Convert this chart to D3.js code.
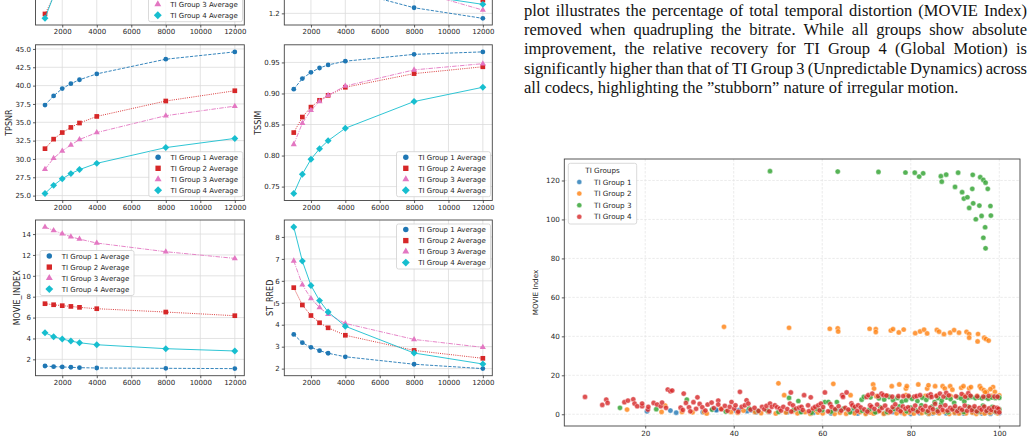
<!DOCTYPE html>
<html>
<head>
<meta charset="utf-8">
<script src="https://cdn.jsdelivr.net/npm/d3@7"></script>
<style>
  body { margin: 0; background: #fff; }
  svg { display: block; }
</style>
</head>
<body>
<script>
const width = 1034;
const height = 442;

// ---- line panels (bitrate sweeps) ----
const bitrates = [1000, 1500, 2000, 2500, 3000, 4000, 8000, 12000];
const bitrateTicks = [2000, 4000, 6000, 8000, 10000, 12000];
const groupNames = ['TI Group 1 Average', 'TI Group 2 Average', 'TI Group 3 Average', 'TI Group 4 Average'];

// top row panels are cut off by the page edge
const topLeftG1 = [50, 55, 58, 60, 62, 65, 72, 76];
const topLeftG2 = [29.7, 38.5, 42, 44.5, 46.5, 50, 58, 62];
const topLeftG3 = [40, 46, 50, 53, 55, 58, 65, 69];
const topLeftG4 = [27.5, 39.1, 45, 49, 52, 56, 64, 68];
const topLeftTicks = [];

const topRightG1 = [2.3, 2.0, 1.8, 1.65, 1.55, 1.404, 1.248, 1.157];
const topRightG2 = [2.35, 2.1, 1.95, 1.85, 1.75, 1.62, 1.45, 1.314];
const topRightG3 = [2.3, 2.05, 1.9, 1.8, 1.7, 1.58, 1.397, 1.228];
const topRightG4 = [2.35, 2.1, 1.9, 1.78, 1.68, 1.55, 1.365, 1.277];
const topRightTicks = [1.2];

const tpsnrG1 = [37.35, 38.6, 39.6, 40.26, 40.8, 41.6, 43.6, 44.6];
const tpsnrG2 = [31.4, 32.7, 33.6, 34.3, 34.9, 35.8, 37.9, 39.3];
const tpsnrG3 = [28.6, 30.1, 31.1, 31.9, 32.65, 33.6, 35.9, 37.2];
const tpsnrG4 = [25.3, 26.4, 27.3, 28.0, 28.55, 29.4, 31.55, 32.8];
const tpsnrTicks = [25, 27.5, 30, 32.5, 35, 37.5, 40, 42.5, 45];

const tssimG1 = [0.907, 0.924, 0.934, 0.941, 0.946, 0.952, 0.963, 0.967];
const tssimG2 = [0.837, 0.862, 0.878, 0.889, 0.897, 0.910, 0.932, 0.943];
const tssimG3 = [0.818, 0.852, 0.873, 0.887, 0.897, 0.912, 0.938, 0.948];
const tssimG4 = [0.739, 0.770, 0.794, 0.811, 0.824, 0.844, 0.887, 0.910];
const tssimTicks = [0.75, 0.80, 0.85, 0.90, 0.95];

const movieG1 = [1.36, 1.30, 1.27, 1.24, 1.20, 1.17, 1.14, 1.11];
const movieG2 = [7.33, 7.23, 7.14, 7.07, 6.98, 6.85, 6.53, 6.18];
const movieG3 = [14.67, 14.35, 14.03, 13.74, 13.52, 13.14, 12.31, 11.67];
const movieG4 = [4.55, 4.17, 3.95, 3.75, 3.59, 3.40, 3.02, 2.80];
const movieTicks = [2, 4, 6, 8, 10, 12, 14];

const rredG1 = [3.56, 3.18, 2.97, 2.82, 2.70, 2.54, 2.20, 2.00];
const rredG2 = [5.69, 4.90, 4.42, 4.09, 3.86, 3.52, 2.83, 2.47];
const rredG3 = [6.91, 5.82, 5.20, 4.78, 4.48, 4.06, 3.33, 2.97];
const rredG4 = [8.45, 6.90, 5.79, 5.10, 4.58, 3.93, 2.71, 2.21];
const rredTicks = [2, 3, 4, 5, 6, 7, 8];

// ---- scatter: TI percentile vs MOVIE Index ----
const scatterGroups = ['TI Group 1', 'TI Group 2', 'TI Group 3', 'TI Group 4'];
const scatterXTicks = [20, 40, 60, 80, 100];
const scatterYTicks = [0, 20, 40, 60, 80, 100, 120];

const g1Points = [
  [20.4, 1.5], [25.7, 1.9], [27, 0.8], [33, 1.1], [35.2, 2.6], [36.0, 2.4], [36.1, 2.1], [40.5, 1.8],
  [41.2, 2.1], [43, 1.6], [44.0, 2.1], [45.0, 1.0], [48, 1.2], [52, 0.9], [55, 1.3], [58, 0.8],
  [62, 0.5], [64, 1.7], [66, 1.0], [66.9, 1.5], [68, 0.4], [70, 0.6], [71, 2.1], [72, 1.1],
  [74, 0.4], [76, 1.2], [78, 0.8], [80, 0.2], [82, 0.6], [84, 0.3], [85, 0.5], [86, 0.9],
  [88, 0.5], [90, 0.7], [91, 1.0], [92, 0.4], [94, 0.8], [96, 0.5], [97, 0.9], [98, 0.3],
  [99, 1.4], [100, 0.6]
];

const g2Points = [
  [37.8, 44.9], [52.5, 44.4], [61.7, 43.9], [63.5, 44.1], [63.6, 42.5], [70.7, 43.9], [72.1, 43.7],
  [72.1, 42.2], [75.5, 43.0], [76.0, 43.7], [77.3, 42.0], [78.4, 43.5], [81.0, 41.6], [82.1, 42.5],
  [83.0, 43.4], [83.7, 41.5], [85.9, 43.3], [86.4, 42.4], [87.5, 41.1], [88.9, 41.9], [89.8, 43.2],
  [90.9, 41.9], [92.6, 42.3], [93.2, 41.2], [93.2, 39.3], [95.2, 41.2], [95.1, 37.4], [96.6, 39.3],
  [97.0, 38.6], [97.6, 37.8],
  [50.1, 15.9], [51.4, 9.8], [62.5, 15.6], [66.4, 9.8], [71.5, 15.3], [71.7, 13.2], [75.7, 14.4],
  [77.4, 15.3], [78.9, 13.2], [79.1, 14.4], [81.7, 15.3], [83.7, 13.2], [84.0, 14.9], [85.5, 14.4],
  [87.2, 14.4], [87.7, 13.2], [88.9, 14.4], [89.4, 12.6], [91.4, 13.6], [91.9, 14.4], [93.2, 13.3],
  [93.6, 14.0], [95.6, 14.4], [95.9, 13.3], [96.5, 12.4], [97.2, 11.5], [98.6, 14.0], [99.0, 11.5],
  [98.0, 12.9], [96.8, 11.3], [74.7, 9.5], [72.2, 9.3], [78.9, 9.8], [83.3, 9.4], [86.0, 9.6],
  [89.0, 9.3], [92.0, 9.6], [95.0, 9.5], [98.3, 9.4], [100.0, 9.7],
  [15.9, 2.4], [24.5, 4.5], [23.7, 1.2], [28.3, 1.2], [30.7, 1.0], [33.3, 1.2], [33.9, 0.4],
  [37.1, 2.9], [39.4, 1.2], [40.9, 0.8], [42.2, 1.9], [44.8, 1.2], [46.2, 0.6], [47.8, 1.3],
  [49.5, 0.4], [51.8, 0.9], [53.3, 1.6], [54.4, 0.5], [56.1, 1.1], [57.3, 0.3], [58.0, 2.1],
  [59.0, 0.9], [60.1, 0.5], [61.7, 1.4], [62.8, 0.2], [64.0, 0.8], [65.4, 0.3], [66.0, 1.6],
  [67.3, 0.5], [68.5, 1.1], [69.8, 0.2], [70.9, 0.9], [71.6, 0.4], [72.7, 1.5], [73.9, 0.3],
  [74.9, 0.8], [75.6, 2.0], [76.8, 0.5], [77.9, 1.2], [78.6, 0.2], [79.6, 0.9], [80.7, 0.4],
  [81.8, 1.6], [82.5, 0.6], [83.4, 1.1], [84.1, 0.3], [85.2, 0.9], [86.4, 0.5], [87.5, 1.4],
  [88.7, 0.2], [89.9, 0.8], [90.9, 0.4], [91.8, 1.2], [92.5, 0.5], [93.9, 0.9], [94.8, 0.2],
  [95.8, 1.1], [96.7, 0.4], [97.9, 0.8], [98.7, 1.5], [99.6, 0.5], [100.0, 1.9]
];

const g3Points = [
  [48.2, 124.8], [63.5, 124.6], [72.7, 124.4], [78.8, 124.1], [80.9, 124.0], [81.9, 122.0],
  [82.8, 123.7], [86.8, 122.2], [87.0, 119.4], [88.0, 123.0], [90.0, 116.7], [90.7, 124.0],
  [91.6, 114.0], [92.0, 110.7], [92.8, 111.4], [93.2, 105.9], [94.0, 122.9], [93.9, 115.7],
  [94.1, 108.3], [94.7, 100.1], [95.5, 107.1], [95.7, 121.7], [96.0, 101.8], [96.4, 120.3],
  [96.8, 96.0], [96.4, 90.6], [96.9, 118.9], [96.9, 85.2], [97.4, 115.7], [98.0, 106.9], [98.1, 102.0],
  [14.3, 3.3], [22.5, 2.6], [29.4, 7.5], [35.1, 2.4], [38.2, 1.4], [43.5, 2.9], [45.5, 1.7],
  [47.5, 2.0], [50.1, 1.2], [52.5, 8.4], [53.6, 2.3], [54.6, 6.8], [55.2, 1.1], [57.6, 0.8],
  [58.8, 2.7], [60.0, 2.1], [60.6, 6.3], [61.4, 6.3], [62.0, 1.3], [63.0, 2.4], [63.3, 6.3],
  [64.8, 2.9], [66.3, 1.0], [67.1, 3.2], [68.9, 7.5], [69.0, 1.8], [69.4, 8.9], [70.6, 2.4],
  [70.9, 8.7], [72.0, 1.0], [72.8, 8.2], [73.1, 3.6], [74.0, 7.6], [74.6, 1.2], [75.2, 8.9],
  [76.0, 7.2], [76.2, 2.7], [77.0, 8.4], [77.4, 4.0], [78.0, 6.5], [78.9, 7.2], [79.1, 1.5],
  [79.7, 8.8], [80.0, 3.4], [80.3, 7.9], [81.2, 2.0], [81.5, 6.8], [82.4, 4.6], [82.6, 8.5],
  [83.5, 7.4], [83.6, 1.2], [84.2, 8.9], [84.8, 3.9], [85.4, 6.2], [86.0, 2.3], [86.2, 8.3],
  [86.9, 5.4], [87.0, 7.0], [88.1, 8.6], [88.4, 1.0], [89.0, 7.8], [89.6, 3.0], [89.8, 5.9],
  [90.6, 8.7], [90.8, 2.4], [91.4, 8.1], [92.0, 1.1], [92.1, 6.6], [92.9, 8.5], [93.0, 3.9],
  [93.7, 8.9], [94.2, 2.6], [94.6, 8.3], [95.1, 1.3], [95.3, 8.6], [96.1, 8.2], [96.3, 4.4],
  [96.9, 8.7], [97.3, 2.1], [97.5, 8.0], [98.3, 8.6], [98.4, 3.8], [99.1, 8.4], [99.2, 1.2],
  [99.8, 8.9], [100.0, 8.5], [100.0, 2.6]
];

const g4Points = [
  [6.4, 8.9], [10.3, 4.8], [11.2, 7.5], [11.5, 5.8], [15.3, 6.2], [16.1, 7.0], [17.3, 7.7],
  [17.6, 5.5], [18.2, 4.1], [19.3, 4.1], [19.3, 5.5], [20.6, 2.4], [20.7, 3.8], [21.9, 5.8],
  [22.7, 5.0], [23.5, 4.1], [23.8, 6.0], [24.7, 3.3], [25.1, 12.7], [25.7, 11.8], [26.1, 12.2],
  [28.7, 10.6], [28.0, 3.4], [28.5, 2.2], [29.2, 5.8], [29.9, 3.6], [30.2, 1.5], [30.9, 6.2],
  [31.5, 2.8], [31.8, 8.7], [32.3, 5.3], [32.9, 3.6], [33.6, 1.9], [34.1, 5.0], [35.0, 6.0],
  [35.5, 3.2], [36.5, 7.0], [36.5, 5.0], [37.2, 2.6], [38.0, 4.3], [38.6, 1.8], [39.1, 3.8],
  [39.5, 6.3], [40.1, 2.9], [40.4, 4.6], [41.0, 1.3], [41.4, 11.5], [41.8, 3.8], [42.5, 4.6],
  [42.9, 7.2], [43.3, 5.5], [43.8, 2.4], [44.7, 3.3], [45.6, 1.7], [46.4, 3.8], [46.9, 2.6],
  [47.4, 4.3], [48.0, 1.5], [48.2, 5.5], [48.6, 3.8], [49.3, 4.6], [49.8, 3.6], [50.4, 2.9],
  [50.7, 1.9], [51.2, 3.8], [52.1, 2.7], [52.7, 5.5], [52.9, 11.2], [53.0, 1.4], [53.4, 4.6],
  [54.1, 2.9], [54.8, 3.4], [55.3, 3.8], [55.6, 2.2], [55.9, 9.8], [56.8, 4.6], [57.0, 1.6],
  [57.4, 8.7], [57.9, 3.0], [58.4, 3.8], [59.1, 4.6], [59.4, 2.0], [59.7, 5.5], [60.2, 3.7],
  [60.6, 11.2], [61.3, 1.5], [61.8, 5.2], [62.1, 3.8], [62.9, 2.6], [63.7, 4.1], [64.3, 1.9],
  [64.5, 9.8], [64.7, 8.9], [65.2, 3.3], [65.5, 11.2], [65.9, 2.4], [66.6, 5.6], [66.8, 4.6],
  [67.4, 3.8], [67.9, 1.7], [68.1, 4.6], [68.7, 3.5], [69.5, 2.5], [70.0, 8.9], [70.2, 1.4],
  [70.4, 9.8], [70.8, 4.6], [71.1, 3.9], [71.3, 10.6], [71.8, 2.8], [72.4, 5.0], [72.6, 9.3],
  [72.9, 1.8], [73.4, 10.6], [73.5, 3.2], [73.8, 9.8], [74.2, 4.4], [74.5, 9.6], [74.8, 2.2],
  [75.4, 1.3], [75.8, 9.0], [75.9, 3.7], [76.5, 5.1], [77.1, 2.5], [77.2, 9.3], [77.7, 1.6],
  [78.2, 4.0], [78.3, 9.3], [78.8, 2.9], [79.4, 3.6], [79.5, 9.4], [79.9, 1.9], [80.5, 2.6],
  [80.8, 9.1], [81.0, 4.5], [81.3, 9.3], [81.6, 1.4], [82.1, 9.8], [82.2, 3.1], [82.7, 2.3],
  [83.3, 4.2], [83.9, 9.6], [83.9, 1.7], [84.4, 3.4], [84.5, 10.2], [84.7, 8.9], [85.0, 2.6],
  [85.5, 5.3], [85.8, 9.4], [86.1, 1.5], [86.6, 10.6], [86.7, 3.8], [87.2, 2.2], [87.4, 9.1],
  [87.8, 4.6], [88.0, 11.0], [88.3, 1.9], [88.6, 9.7], [88.9, 3.3], [89.4, 2.5], [90.0, 4.1],
  [90.2, 9.2], [90.5, 1.6], [91.1, 3.0], [91.5, 10.4], [91.6, 2.3], [92.2, 4.4], [92.3, 9.0],
  [92.7, 1.8], [93.0, 10.8], [93.3, 3.6], [93.5, 9.5], [93.8, 2.1], [94.4, 4.0], [94.9, 1.5],
  [95.0, 9.2], [95.5, 3.2], [96.0, 2.4], [96.4, 9.0], [96.6, 3.9], [97.1, 1.7], [97.6, 9.4],
  [97.7, 3.0], [98.2, 2.2], [98.8, 3.6], [98.9, 9.1], [99.3, 1.4], [99.5, 3.3], [99.6, 9.0],
  [99.8, 2.8], [100.0, 1.0]
];

// ---- paragraph text above the scatter ----
const paragraph = [
  'plot illustrates the percentage of total temporal distortion (MOVIE Index)',
  'removed when quadrupling the bitrate. While all groups show absolute',
  'improvement, the relative recovery for TI Group 4 (Global Motion) is',
  'significantly higher than that of TI Group 3 (Unpredictable Dynamics) across',
  'all codecs, highlighting the \u201dstubborn\u201d nature of irregular motion.'
];

// G4 uses a square turned 45 degrees, like a matplotlib 'D' marker
const lineStyles = [
  { color: '#1f77b4', symbol: d3.symbolCircle, size: 18, rot: 0, dash: '3.2,1.4' },
  { color: '#d62728', symbol: d3.symbolSquare, size: 22, rot: 0, dash: '1,1.2' },
  { color: '#e377c2', symbol: d3.symbolTriangle, size: 16, rot: 0, dash: '4.5,1.2,1,1.2' },
  { color: '#17becf', symbol: d3.symbolSquare, size: 24, rot: 45, dash: null }
];
const scatterColors = ['#1f77b4', '#ff7f0e', '#2ca02c', '#d62728'];
const font = 'DejaVu Sans';

const svg = d3.select('body')
              .append('svg')
              .attr('width', width)
              .attr('height', height);
svg.append('rect').attr('width', width).attr('height', height).attr('fill', '#fff');

function styleAxis(g, size) {
  g.select('.domain').remove();
  g.attr('font-family', font).attr('font-size', size);
  g.selectAll('line').attr('stroke', '#333').attr('stroke-width', 0.8);
  g.selectAll('text').attr('fill', '#262626');
}

function drawLegend(g, x0, y0, w, h, entries, title) {
  g.append('rect')
   .attr('x', x0).attr('y', y0).attr('width', w).attr('height', h)
   .attr('rx', 2).attr('fill', '#fff').attr('fill-opacity', 0.85)
   .attr('stroke', '#d0d0d0').attr('stroke-width', 0.8);
  let top = y0 + 5.6;
  if (title) {
    g.append('text').attr('x', x0 + w / 2).attr('y', y0 + 6.8).attr('dy', '0.35em')
     .attr('text-anchor', 'middle').attr('font-family', font).attr('font-size', 7.2)
     .attr('fill', '#262626').text(title);
    top = y0 + 18.7;
  }
  entries.forEach((e, i) => {
    const cy = top + i * e.step;
    if (cy < 2) return; // row sits above the page edge
    g.append('path')
     .attr('d', d3.symbol().type(e.symbol).size(e.size)())
     .attr('transform', `translate(${x0 + e.mx}, ${cy}) rotate(${e.rot || 0})`)
     .attr('fill', e.color).attr('fill-opacity', e.opacity || 1)
     .attr('stroke', e.stroke || 'none').attr('stroke-width', 0.4);
    g.append('text').attr('x', x0 + e.tx).attr('y', cy).attr('dy', '0.35em')
     .attr('font-family', font).attr('font-size', e.fs)
     .attr('fill', '#262626').text(e.label);
  });
}

function linePanel(p) {
  const g = svg.append('g');
  const x = d3.scaleLinear().domain([450, 12550]).range([p.left, p.right]);
  let dom = p.domain;
  if (!dom) {
    const [lo, hi] = d3.extent(p.series.flat());
    const m = (hi - lo) * 0.05;
    dom = [lo - m, hi + m];
  }
  const y = d3.scaleLinear().domain(dom).range([p.bottom, p.top]);

  // grid
  g.append('g').selectAll('line').data(bitrateTicks).join('line')
   .attr('x1', d => x(d)).attr('x2', d => x(d))
   .attr('y1', p.top).attr('y2', p.bottom)
   .attr('stroke', '#dcdcdc').attr('stroke-width', 0.8);
  g.append('g').selectAll('line').data(p.ticks).join('line')
   .attr('x1', p.left).attr('x2', p.right)
   .attr('y1', d => y(d)).attr('y2', d => y(d))
   .attr('stroke', '#dcdcdc').attr('stroke-width', 0.8);

  // series
  p.series.forEach((vals, i) => {
    const s = lineStyles[i];
    const pts = bitrates.map((b, j) => [x(b), y(vals[j])]);
    g.append('path')
     .attr('d', d3.line()(pts))
     .attr('fill', 'none')
     .attr('stroke', s.color)
     .attr('stroke-width', 0.9)
     .attr('stroke-dasharray', s.dash);
    g.append('g').selectAll('path').data(pts).join('path')
     .attr('d', d3.symbol().type(s.symbol).size(s.size)())
     .attr('transform', d => `translate(${d[0]}, ${d[1]}) rotate(${s.rot})`)
     .attr('fill', s.color);
  });

  // frame
  g.append('rect')
   .attr('x', p.left).attr('y', p.top)
   .attr('width', p.right - p.left).attr('height', p.bottom - p.top)
   .attr('fill', 'none').attr('stroke', '#444').attr('stroke-width', 0.9);

  const xa = g.append('g')
              .attr('transform', `translate(0, ${p.bottom})`)
              .call(d3.axisBottom(x).tickValues(bitrateTicks).tickSize(2.5).tickPadding(2).tickFormat(d3.format('d')));
  styleAxis(xa, 7);
  const ya = g.append('g')
              .attr('transform', `translate(${p.left}, 0)`)
              .call(d3.axisLeft(y).tickValues(p.ticks).tickSize(2.5).tickPadding(2).tickFormat(p.format));
  styleAxis(ya, 7);

  if (p.label) {
    g.append('text')
     .attr('transform', `translate(${p.labelX}, ${(p.top + p.bottom) / 2}) rotate(-90)`)
     .attr('text-anchor', 'middle').attr('dy', '0.35em')
     .attr('font-family', font).attr('font-size', 8).attr('fill', '#262626')
     .text(p.label);
  }

  if (p.legend) {
    const entries = groupNames.map((name, i) => ({
      label: name, color: lineStyles[i].color, symbol: lineStyles[i].symbol,
      size: lineStyles[i].size * 1.3, rot: lineStyles[i].rot, mx: 9.3, tx: 21.7, fs: 7, step: 11
    }));
    drawLegend(g, p.legend[0], p.legend[1], 94, 45, entries);
  }
}

const leftCol = { left: 35.5, right: 244.3 };
const rightCol = { left: 284.3, right: 492.3 };

linePanel({ ...leftCol, top: -130, bottom: 25, domain: [24, 104],
  series: [topLeftG1, topLeftG2, topLeftG3, topLeftG4], ticks: topLeftTicks,
  format: d3.format('d'), legend: [148.5, -23.3] });
linePanel({ ...rightCol, top: -126.5, bottom: 25, domain: [1.1, 2.4],
  series: [topRightG1, topRightG2, topRightG3, topRightG4], ticks: topRightTicks,
  format: d3.format('.1f') });
linePanel({ ...leftCol, top: 44.8, bottom: 200.5,
  series: [tpsnrG1, tpsnrG2, tpsnrG3, tpsnrG4], ticks: tpsnrTicks,
  format: d3.format('.1f'), label: 'TPSNR', labelX: 9.5, legend: [148.8, 151.7] });
linePanel({ ...rightCol, top: 44.8, bottom: 200.5,
  series: [tssimG1, tssimG2, tssimG3, tssimG4], ticks: tssimTicks,
  format: d3.format('.2f'), label: 'TSSIM', labelX: 258.5, legend: [396.5, 151.7] });
linePanel({ ...leftCol, top: 220, bottom: 375.7,
  series: [movieG1, movieG2, movieG3, movieG4], ticks: movieTicks,
  format: d3.format('d'), label: 'MOVIE_INDEX', labelX: 17.5, legend: [40, 250.5] });
linePanel({ ...rightCol, top: 220, bottom: 375.7,
  series: [rredG1, rredG2, rredG3, rredG4], ticks: rredTicks,
  format: d3.format('d'), label: 'ST_RRED', labelX: 270, legend: [396.5, 224] });

// ---- scatter ----
(function scatter() {
  const p = { left: 564.3, right: 1020, top: 159, bottom: 426 };
  const all = [g1Points, g2Points, g3Points, g4Points];
  const flat = all.flat();
  const [x0, x1] = d3.extent(flat, d => d[0]);
  const [y0, y1] = d3.extent(flat, d => d[1]);
  const mx = (x1 - x0) * 0.05, my = (y1 - y0) * 0.05;
  const x = d3.scaleLinear().domain([x0 - mx, x1 + mx]).range([p.left, p.right]);
  const y = d3.scaleLinear().domain([y0 - my, y1 + my]).range([p.bottom, p.top]);
  const g = svg.append('g');

  g.append('g').selectAll('line').data(scatterXTicks).join('line')
   .attr('x1', d => x(d)).attr('x2', d => x(d)).attr('y1', p.top).attr('y2', p.bottom)
   .attr('stroke', '#e2e2e2').attr('stroke-width', 0.7).attr('stroke-dasharray', '2.5,1.5');
  g.append('g').selectAll('line').data(scatterYTicks).join('line')
   .attr('x1', p.left).attr('x2', p.right).attr('y1', d => y(d)).attr('y2', d => y(d))
   .attr('stroke', '#e2e2e2').attr('stroke-width', 0.7).attr('stroke-dasharray', '2.5,1.5');

  all.forEach((pts, i) => {
    g.append('g').selectAll('circle').data(pts).join('circle')
     .attr('cx', d => x(d[0])).attr('cy', d => y(d[1])).attr('r', 2.6)
     .attr('fill', scatterColors[i]).attr('fill-opacity', 0.8)
     .attr('stroke', '#fff').attr('stroke-width', 0.4);
  });

  g.append('rect')
   .attr('x', p.left).attr('y', p.top)
   .attr('width', p.right - p.left).attr('height', p.bottom - p.top)
   .attr('fill', 'none').attr('stroke', '#444').attr('stroke-width', 0.9);

  const xa = g.append('g').attr('transform', `translate(0, ${p.bottom})`)
              .call(d3.axisBottom(x).tickValues(scatterXTicks).tickSize(2.5).tickPadding(2));
  styleAxis(xa, 7.2);
  const ya = g.append('g').attr('transform', `translate(${p.left}, 0)`)
              .call(d3.axisLeft(y).tickValues(scatterYTicks).tickSize(2.5).tickPadding(2));
  styleAxis(ya, 7.2);

  g.append('text')
   .attr('transform', `translate(535, ${(p.top + p.bottom) / 2}) rotate(-90)`)
   .attr('text-anchor', 'middle').attr('dy', '0.35em')
   .attr('font-family', font).attr('font-size', 7.2).attr('fill', '#262626')
   .text('MOVIE Index');

  const entries = scatterGroups.map((name, i) => ({
    label: name, color: scatterColors[i], symbol: d3.symbolCircle, size: 20,
    opacity: 0.8, stroke: '#fff', mx: 11, tx: 25.7, fs: 7.2, step: 11.6
  }));
  drawLegend(g, 568.3, 163.3, 68.4, 60.7, entries, 'TI Groups');
})();

// ---- paragraph, justified like the page ----
(function text() {
  const left = 524, right = 1027, size = 16.5;
  const baselines = [16, 35.2, 54.4, 73.6, 92.8];
  paragraph.forEach((line, i) => {
    const words = line.split(' ');
    const t = svg.append('g');
    const nodes = words.map(w => t.append('text')
      .attr('y', baselines[i]).attr('font-family', 'Liberation Serif').attr('font-size', size)
      .attr('fill', '#111').text(w));
    const widths = nodes.map(n => n.node().getComputedTextLength());
    const total = d3.sum(widths);
    const last = i === paragraph.length - 1;
    const gap = last ? size * 0.25 : (right - left - total) / (words.length - 1);
    let cx = left;
    nodes.forEach((n, j) => { n.attr('x', cx); cx += widths[j] + gap; });
  });
})();
</script>
</body>
</html>
